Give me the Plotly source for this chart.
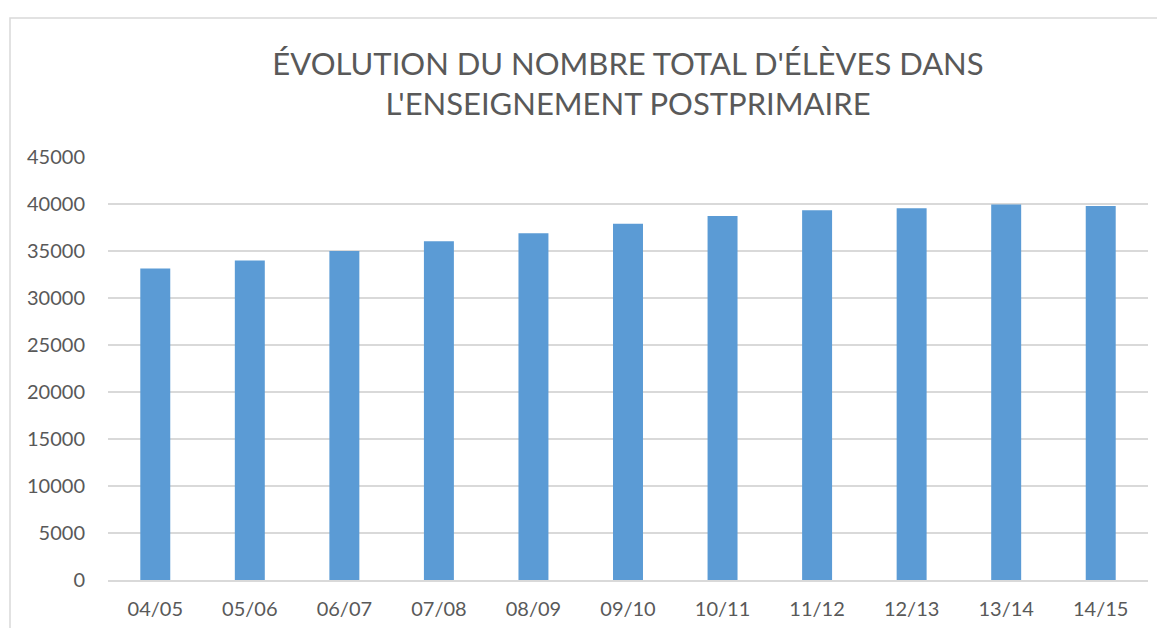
import plotly.graph_objects as go

categories = ["04/05", "05/06", "06/07", "07/08", "08/09", "09/10", "10/11", "11/12", "12/13", "13/14", "14/15"]
values = [33150, 34000, 35000, 36030, 36880, 37910, 38720, 39330, 39540, 39960, 39790]
tick_vals = [0, 5000, 10000, 15000, 20000, 25000, 30000, 35000, 40000, 45000]
tick_text = ["0", "5000", "10000", "15000", "20000", "25000", "30000", "35000", "40000", "45000"]
title_text = "ÉVOLUTION DU NOMBRE TOTAL D'ÉLÈVES DANS<br>L'ENSEIGNEMENT POSTPRIMAIRE"

# page body has an 8px margin, so the figure is placed at (8, 8) on screen
OFF = 8
W, H = 1165 - OFF, 628 - OFF
L, R, T, B = 108 - OFF, 17, 157 - OFF, 48
pw, ph = W - L - R, H - T - B

def px_x(p):
    return (p - OFF - L) / pw

def px_y(p):
    return (H - B - (p - OFF)) / ph

fig = go.Figure(go.Bar(x=categories, y=values, marker_color="#5B9BD5",
                       marker_line_width=0))

fig.update_layout(
    width=W, height=H,
    margin=dict(l=L, r=R, t=T, b=B),
    paper_bgcolor="white", plot_bgcolor="white",
    bargap=0.683,
    font=dict(family="Lato, Carlito, Calibri, sans-serif", color="#595959", size=20),
    title=dict(text=title_text, x=0.5, xref="paper", xanchor="center",
               y=1 - (75 - OFF) / H, yanchor="middle",
               font=dict(size=31, color="#595959")),
    showlegend=False,
    shapes=[dict(type="rect", xref="paper", yref="paper",
                 x0=px_x(10), x1=px_x(1164), y0=px_y(660), y1=px_y(18),
                 line=dict(color="#D9D9D9", width=1.5), fillcolor="rgba(0,0,0,0)",
                 layer="below")],
)
fig.update_xaxes(showgrid=False, showline=True, linecolor="#D9D9D9", linewidth=1.5,
                 automargin=False,
                 ticks="", ticklabelstandoff=10, tickfont=dict(size=20, color="#595959"))
fig.update_yaxes(range=[0, 45000], tickvals=tick_vals, ticktext=tick_text, showgrid=True,
                 automargin=False,
                 gridcolor="#D9D9D9", gridwidth=1.5, zeroline=False, showline=False,
                 ticks="", ticklabelstandoff=22, tickfont=dict(size=20, color="#595959"))

fig.write_html("out.html")
